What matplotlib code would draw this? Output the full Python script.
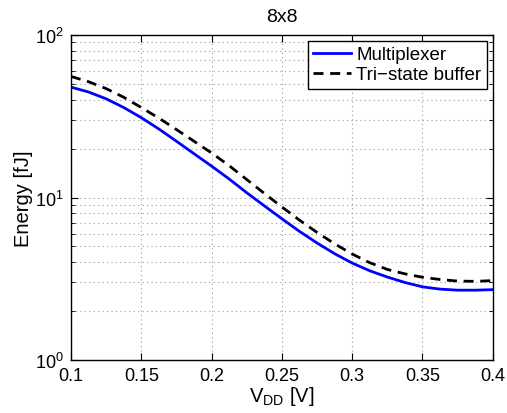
import matplotlib
matplotlib.use("Agg")
import matplotlib.pyplot as plt
from matplotlib.ticker import LogLocator, FixedLocator, NullFormatter

plt.rcParams['font.family'] = ['Liberation Sans', 'DejaVu Sans']
plt.rcParams['mathtext.default'] = 'regular'

# Supply voltage sweep [V]
vdd = [0.1000, 0.1125, 0.1250, 0.1375, 0.1500, 0.1625, 0.1750, 0.1875,
       0.2000, 0.2125, 0.2250, 0.2375, 0.2500, 0.2625, 0.2750, 0.2875,
       0.3000, 0.3125, 0.3250, 0.3375, 0.3500, 0.3625, 0.3750, 0.3875,
       0.4000]
# Energy per operation [fJ]
energy_mux = [47.8, 44.6, 40.5, 35.8, 31.0, 26.4, 22.2, 18.6,
              15.6, 13.0, 10.7, 8.89, 7.40, 6.19, 5.25, 4.51,
              3.95, 3.54, 3.24, 3.00, 2.82, 2.73, 2.69, 2.69,
              2.71]
energy_tristate = [55.6, 51.6, 46.8, 41.4, 35.8, 30.8, 26.2, 22.2,
                   18.8, 15.7, 12.9, 10.6, 8.75, 7.26, 6.10, 5.19,
                   4.49, 3.97, 3.61, 3.39, 3.23, 3.13, 3.06, 3.05,
                   3.08]
xticks = [0.1, 0.15, 0.2, 0.25, 0.3, 0.35, 0.4]
xtick_labels = ["0.1", "0.15", "0.2", "0.25", "0.3", "0.35", "0.4"]

fig = plt.figure(figsize=(5.07, 4.14), dpi=100)
ax = fig.add_axes([0.140, 0.128, 0.832, 0.785])

ax.plot(vdd, energy_mux, color='#0000ff', lw=2.0, label='Multiplexer')
ax.plot(vdd, energy_tristate, color='black', lw=2.0, dashes=(3.6, 2.4),
        label='Tri\u2212state buffer')

ax.set_yscale('log')
ax.set_xlim(0.1, 0.4)
ax.set_ylim(1, 100)
ax.xaxis.set_major_locator(FixedLocator(xticks))
ax.set_xticklabels(xtick_labels)
ax.yaxis.set_major_locator(LogLocator(base=10, numticks=5))
ax.yaxis.set_minor_locator(LogLocator(base=10, subs=range(2, 10), numticks=20))
ax.yaxis.set_minor_formatter(NullFormatter())

ax.grid(True, which='major', linestyle=(0, (1, 3)), color='#9a9a9a', lw=0.8)
ax.grid(True, which='minor', axis='y', linestyle=(0, (1, 3)), color='#9a9a9a', lw=0.8)

ax.tick_params(which='both', direction='in', top=True, right=True, color='black')
ax.tick_params(axis='x', labelsize=13, pad=5)
ax.tick_params(axis='y', labelsize=13, pad=5)
ax.tick_params(which='major', length=5, width=0.8)
ax.tick_params(which='minor', length=3, width=0.6)
for s in ax.spines.values():
    s.set_linewidth(1.0)

ax.set_title('8x8', fontsize=14, pad=10)
ax.set_xlabel('$V_{DD}$ [V]', fontsize=14.5, labelpad=0)
ax.set_ylabel('Energy [fJ]', fontsize=14.5, labelpad=2)

leg = ax.legend(loc='upper right', fontsize=13.5, frameon=True, fancybox=False,
                edgecolor='black', framealpha=1, borderpad=0.3,
                handlelength=2.0, handletextpad=0.3, labelspacing=0.15,
                borderaxespad=0.3)
leg.get_frame().set_linewidth(1.0)

fig.savefig('out.png', dpi=100)
